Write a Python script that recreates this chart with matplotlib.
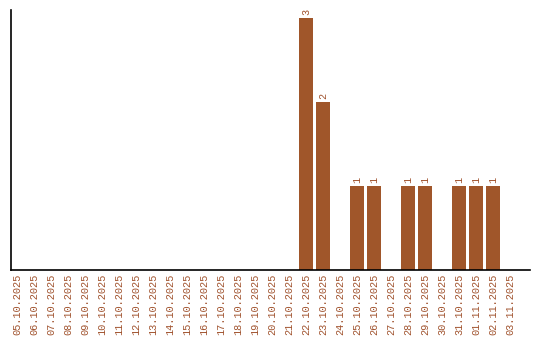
import matplotlib
matplotlib.use("Agg")
import matplotlib.pyplot as plt

# Daily counts, 05.10.2025 .. 03.11.2025
dates = [
    "05.10.2025", "06.10.2025", "07.10.2025", "08.10.2025", "09.10.2025",
    "10.10.2025", "11.10.2025", "12.10.2025", "13.10.2025", "14.10.2025",
    "15.10.2025", "16.10.2025", "17.10.2025", "18.10.2025", "19.10.2025",
    "20.10.2025", "21.10.2025", "22.10.2025", "23.10.2025", "24.10.2025",
    "25.10.2025", "26.10.2025", "27.10.2025", "28.10.2025", "29.10.2025",
    "30.10.2025", "31.10.2025", "01.11.2025", "02.11.2025", "03.11.2025",
]
counts = [0, 0, 0, 0, 0, 0, 0, 0, 0, 0,
          0, 0, 0, 0, 0, 0, 0, 3, 2, 0,
          1, 1, 0, 1, 1, 0, 1, 1, 1, 0]

COLOR_BAR = "#a0562a"
COLOR_TEXT = "#a0522d"

plt.rcParams["font.family"] = ["Liberation Mono", "DejaVu Sans Mono"]

fig = plt.figure(figsize=(5.4, 3.4), dpi=100)
ax = fig.add_axes([11 / 540, 70 / 340, 519 / 540, 260 / 340])

x = list(range(len(dates)))
bars = ax.bar(x, counts, width=0.82, color=COLOR_BAR)
for xi, c in zip(x, counts):
    if c > 0:
        ax.text(xi, c + 0.03, str(c), rotation=90, ha="center", va="bottom",
                color=COLOR_TEXT, fontsize=7.3)

ax.set_xlim(-0.38, 30.18)
ax.set_ylim(0, 3.095)
ax.set_xticks(x)
ax.set_xticklabels(dates, rotation=90, color=COLOR_TEXT, fontsize=7.4)
ax.tick_params(axis="x", length=0, pad=3)
ax.set_yticks([])
for side in ("top", "right"):
    ax.spines[side].set_visible(False)
for side in ("left", "bottom"):
    ax.spines[side].set_color("black")
    ax.spines[side].set_linewidth(1.2)

fig.savefig("out.png", dpi=100, facecolor="white")
